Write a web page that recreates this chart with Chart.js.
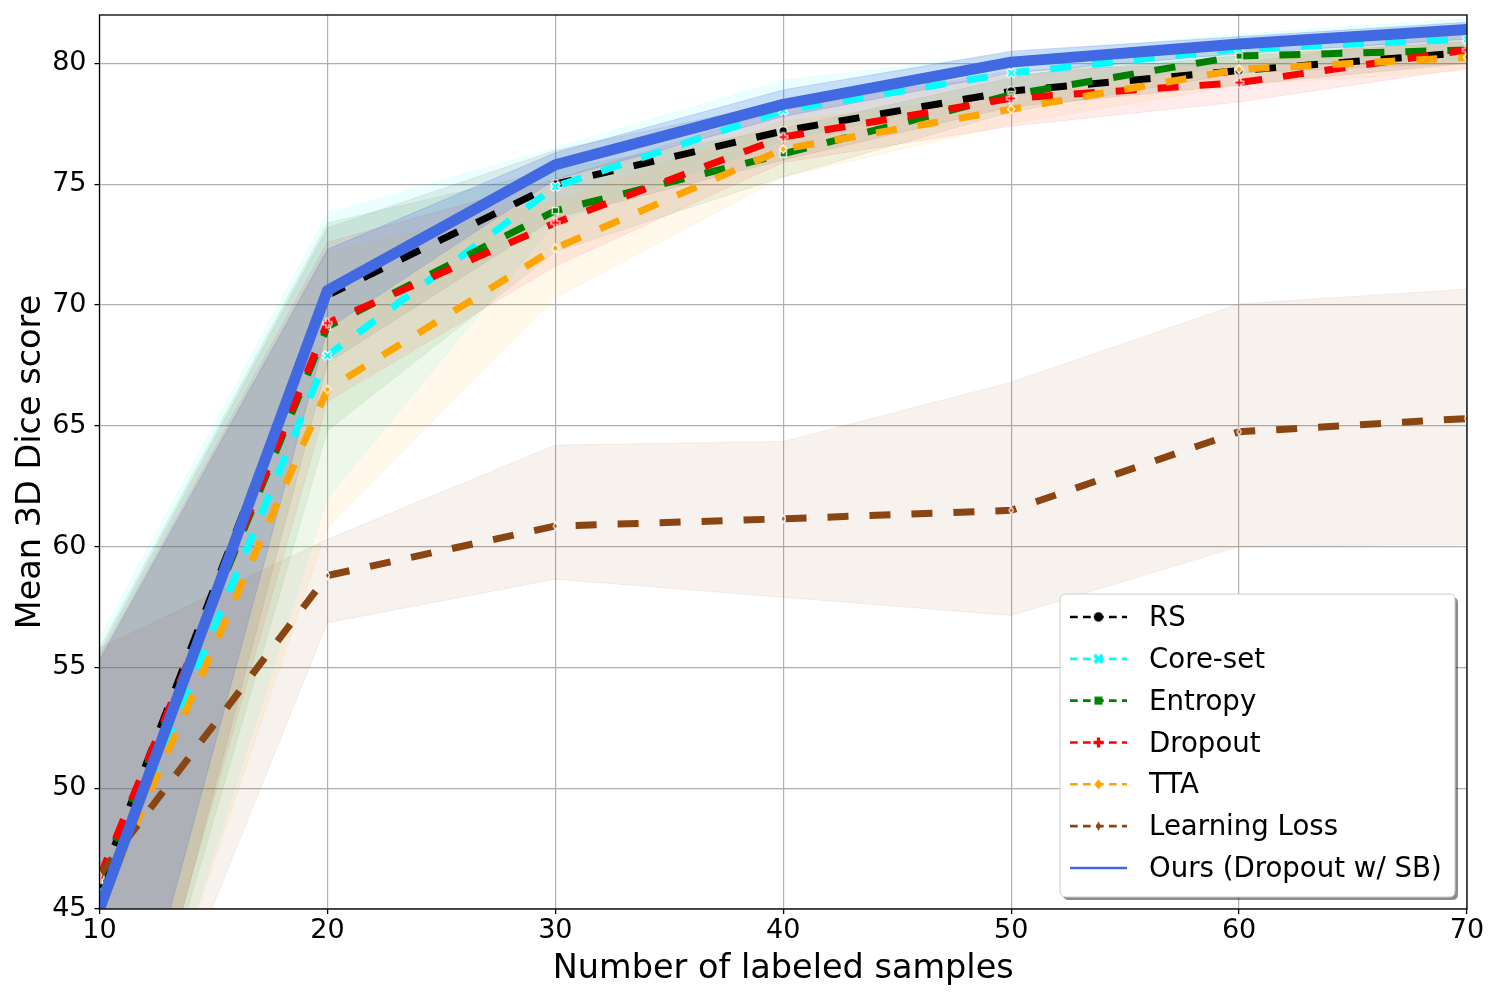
<!DOCTYPE html>
<html>
<head>
<meta charset="utf-8">
<script src="https://cdn.jsdelivr.net/npm/chart.js@4.4.1/dist/chart.umd.min.js"></script>
<style>
html,body{margin:0;padding:0;background:#fff;}
#wrap{width:1500px;height:1000px;}
</style>
</head>
<body>
<div id="wrap"><canvas id="c" width="1500" height="1000"></canvas></div>
<script>
// ---------- data ----------
const samples = [10, 20, 30, 40, 50, 60, 70];
const xTicks = [10, 20, 30, 40, 50, 60, 70];
const yTicks = [45, 50, 55, 60, 65, 70, 75, 80];
const seriesNames = ['RS', 'Core-set', 'Entropy', 'Dropout', 'TTA', 'Learning Loss', 'Ours (Dropout w/ SB)'];

const rsMean   = [46.0, 70.4, 75.0, 77.2, 78.85, 79.7, 80.45];
const rsLow    = [32.0, 67.6, 73.6, 76.0, 78.2, 79.1, 80.0];
const rsHigh   = [55.6, 73.2, 76.4, 78.4, 79.5, 80.3, 80.9];

const coreMean = [45.3, 67.9, 74.9, 78.05, 79.6, 80.6, 81.0];
const coreLow  = [32.5, 62.0, 73.4, 76.8, 78.8, 79.9, 80.2];
const coreHigh = [56.2, 73.8, 76.5, 79.3, 80.4, 81.2, 81.85];

const entMean  = [46.2, 69.1, 73.9, 76.25, 78.7, 80.3, 80.55];
const entLow   = [32.5, 64.8, 72.2, 75.3, 78.0, 79.6, 80.0];
const entHigh  = [55.8, 73.4, 75.6, 77.3, 79.4, 81.0, 81.1];

const dropMean = [46.3, 69.25, 73.4, 76.95, 78.55, 79.2, 80.55];
const dropLow  = [33.0, 66.0, 71.6, 75.9, 77.4, 78.4, 79.8];
const dropHigh = [55.4, 72.6, 75.2, 78.1, 79.7, 80.0, 81.3];

const ttaMean  = [45.1, 66.5, 72.35, 76.45, 78.1, 79.75, 80.25];
const ttaLow   = [33.0, 60.8, 70.3, 75.3, 77.5, 79.1, 79.7];
const ttaHigh  = [55.2, 72.2, 74.3, 77.6, 78.7, 80.4, 80.8];

const llMean   = [46.4, 58.8, 60.85, 61.15, 61.5, 64.75, 65.3];
const llLow    = [33.5, 56.85, 58.65, 57.9, 57.15, 60.0, 60.1];
const llHigh   = [55.8, 60.3, 64.2, 64.35, 66.8, 70.05, 70.65];

const oursMean = [45.0, 70.6, 75.8, 78.3, 80.05, 80.8, 81.4];
const oursLow  = [34.2, 69.0, 75.2, 77.8, 79.6, 80.4, 81.0];
const oursHigh = [55.3, 72.3, 76.3, 78.9, 80.5, 81.1, 81.7];

// ---------- styling ----------
const FONT = "'DejaVu Sans', 'Liberation Sans', sans-serif";
const colors = ['#000000', '#00ffff', '#008000', '#ff0000', '#ffa500', '#8b4513', '#4169e1'];
const markers = ['circle', 'X', 'square', 'P', 'D', 'd', null];
const bandAlpha = [0.08, 0.08, 0.08, 0.08, 0.08, 0.07, 0.22];
const means = [rsMean, coreMean, entMean, dropMean, ttaMean, llMean, oursMean];
const lows  = [rsLow, coreLow, entLow, dropLow, ttaLow, llLow, oursLow];
const highs = [rsHigh, coreHigh, entHigh, dropHigh, ttaHigh, llHigh, oursHigh];

function rgba(hex, a) {
  const n = parseInt(hex.slice(1), 16);
  return `rgba(${(n >> 16) & 255},${(n >> 8) & 255},${n & 255},${a})`;
}

function shapePath(ctx, shape, s) {
  const h = s / 2;
  ctx.beginPath();
  if (shape === 'circle') {
    ctx.arc(0, 0, h, 0, Math.PI * 2);
  } else if (shape === 'square') {
    ctx.rect(-h * 0.85, -h * 0.85, h * 1.7, h * 1.7);
  } else if (shape === 'D') {
    ctx.moveTo(0, -h); ctx.lineTo(h * 0.85, 0); ctx.lineTo(0, h); ctx.lineTo(-h * 0.85, 0);
  } else if (shape === 'd') {
    ctx.moveTo(0, -h); ctx.lineTo(h * 0.55, 0); ctx.lineTo(0, h); ctx.lineTo(-h * 0.55, 0);
  } else if (shape === 'P' || shape === 'X') {
    const H = shape === 'X' ? h * 1.1 : h;
    const w = H / 3;
    const pts = [[-w,-H],[w,-H],[w,-w],[H,-w],[H,w],[w,w],[w,H],[-w,H],[-w,w],[-H,w],[-H,-w],[-w,-w]];
    const rot = shape === 'X' ? Math.PI / 4 : 0;
    pts.forEach((p, i) => {
      const x = p[0] * Math.cos(rot) - p[1] * Math.sin(rot);
      const y = p[0] * Math.sin(rot) + p[1] * Math.cos(rot);
      if (i === 0) ctx.moveTo(x, y); else ctx.lineTo(x, y);
    });
  }
  ctx.closePath();
}

function makeMarker(shape, color, size, edge) {
  const dim = Math.ceil(size * 1.3 + edge * 2 + 2);
  const cv = document.createElement('canvas');
  cv.width = dim; cv.height = dim;
  const c = cv.getContext('2d');
  c.translate(dim / 2, dim / 2);
  shapePath(c, shape, size);
  c.fillStyle = color;
  c.fill();
  if (edge > 0) {
    c.lineWidth = edge;
    c.strokeStyle = '#ffffff';
    c.stroke();
  }
  return cv;
}

const plotMarkerSize = [8.5, 9, 7.5, 9, 8.5, 7.5, 0];
const legendMarkerSize = [9.5, 10, 9.5, 10, 10, 9.5, 0];

// ---------- datasets ----------
const datasets = [];
const toXY = arr => arr.map((v, i) => ({x: samples[i], y: v}));

seriesNames.forEach((name, i) => {
  const lowIndex = datasets.length;
  datasets.push({
    label: name + ' low',
    data: toXY(lows[i]),
    borderColor: rgba(colors[i], bandAlpha[i]),
    borderWidth: 1,
    pointRadius: 0,
    fill: false,
    order: 30 - i
  });
  datasets.push({
    label: name + ' high',
    data: toXY(highs[i]),
    borderColor: rgba(colors[i], bandAlpha[i]),
    backgroundColor: rgba(colors[i], bandAlpha[i]),
    borderWidth: 1,
    pointRadius: 0,
    fill: lowIndex,
    order: 30 - i
  });
});

seriesNames.forEach((name, i) => {
  const isOurs = markers[i] === null;
  datasets.push({
    label: name,
    data: toXY(means[i]),
    borderColor: colors[i],
    borderWidth: isOurs ? 11 : 7,
    borderDash: isOurs ? [] : [21, 21],
    borderCapStyle: 'butt',
    borderJoinStyle: isOurs ? 'round' : 'miter',
    pointRadius: isOurs ? 0 : 4,
    pointStyle: isOurs ? 'circle' : makeMarker(markers[i], colors[i], plotMarkerSize[i], 1.2),
    fill: false,
    order: 6 - i
  });
});

// ---------- plugins ----------
const framePlugin = {
  id: 'frame',
  afterDatasetsDraw(chart) {
    const a = chart.chartArea, ctx = chart.ctx;
    ctx.save();
    ctx.strokeStyle = '#000';
    ctx.lineWidth = 1.3;
    ctx.strokeRect(a.left, a.top, a.right - a.left, a.bottom - a.top);
    ctx.restore();
  }
};

function roundRect(ctx, x, y, w, h, r) {
  ctx.beginPath();
  ctx.moveTo(x + r, y);
  ctx.lineTo(x + w - r, y); ctx.quadraticCurveTo(x + w, y, x + w, y + r);
  ctx.lineTo(x + w, y + h - r); ctx.quadraticCurveTo(x + w, y + h, x + w - r, y + h);
  ctx.lineTo(x + r, y + h); ctx.quadraticCurveTo(x, y + h, x, y + h - r);
  ctx.lineTo(x, y + r); ctx.quadraticCurveTo(x, y, x + r, y);
  ctx.closePath();
}

const legendPlugin = {
  id: 'mplLegend',
  afterDraw(chart) {
    const ctx = chart.ctx, a = chart.chartArea;
    const w = 395, h = 303;
    const x0 = a.right - 12 - w, y0 = a.bottom - 12 - h;
    ctx.save();
    roundRect(ctx, x0 + 3, y0 + 3, w, h, 6);
    ctx.fillStyle = 'rgba(0,0,0,0.45)';
    ctx.fill();
    roundRect(ctx, x0, y0, w, h, 6);
    ctx.fillStyle = '#ffffff';
    ctx.fill();
    ctx.lineWidth = 1;
    ctx.strokeStyle = '#cccccc';
    ctx.stroke();
    seriesNames.forEach((name, i) => {
      const cy = y0 + 23 + i * 41.83;
      const lx0 = x0 + 10, lx1 = x0 + 67;
      ctx.beginPath();
      ctx.strokeStyle = colors[i];
      ctx.lineWidth = 2.6;
      ctx.lineCap = 'butt';
      ctx.setLineDash(markers[i] === null ? [] : [7.7, 5.3]);
      ctx.moveTo(lx0, cy); ctx.lineTo(lx1, cy);
      ctx.stroke();
      ctx.setLineDash([]);
      if (markers[i]) {
        const m = makeMarker(markers[i], colors[i], legendMarkerSize[i], 0);
        ctx.drawImage(m, (lx0 + lx1) / 2 - m.width / 2, cy - m.height / 2);
      }
      ctx.fillStyle = '#000';
      ctx.font = '27.6px ' + FONT;
      ctx.textBaseline = 'middle';
      ctx.textAlign = 'left';
      ctx.fillText(name, x0 + 89, cy + 2);
    });
    ctx.restore();
  }
};

// ---------- chart ----------
Chart.defaults.font.family = FONT;
Chart.defaults.color = '#000';

new Chart(document.getElementById('c'), {
  type: 'line',
  data: {datasets},
  options: {
    responsive: false,
    animation: false,
    devicePixelRatio: 1,
    events: [],
    layout: {padding: {left: 0, top: 15, right: 33, bottom: 0}},
    plugins: {legend: {display: false}, tooltip: {enabled: false}},
    scales: {
      x: {
        type: 'linear',
        min: 10, max: 70,
        afterBuildTicks: s => { s.ticks = xTicks.map(v => ({value: v})); },
        afterFit: s => { s.height = 91; s.paddingLeft = 0; s.paddingRight = 0; },
        ticks: {font: {size: 27}, padding: 1, maxRotation: 0, color: '#000'},
        grid: {color: '#b0b0b0', lineWidth: 1.2, tickColor: '#000', tickWidth: 1.3, tickLength: 5},
        border: {display: false},
        title: {display: true, text: 'Number of labeled samples', font: {size: 33.5}, color: '#000', padding: {top: 0, bottom: 11}}
      },
      y: {
        type: 'linear',
        min: 45, max: 82,
        afterBuildTicks: s => { s.ticks = yTicks.map(v => ({value: v})); },
        afterFit: s => { s.width = 99.5; s.paddingTop = 0; s.paddingBottom = 0; },
        ticks: {font: {size: 27}, padding: 8, color: '#000'},
        grid: {color: '#b0b0b0', lineWidth: 1.2, tickColor: '#000', tickWidth: 1.3, tickLength: 5},
        border: {display: false},
        title: {display: true, text: 'Mean 3D Dice score', font: {size: 33.5}, color: '#000', padding: {top: 11, bottom: 0}}
      }
    }
  },
  plugins: [framePlugin, legendPlugin]
});
</script>
</body>
</html>
